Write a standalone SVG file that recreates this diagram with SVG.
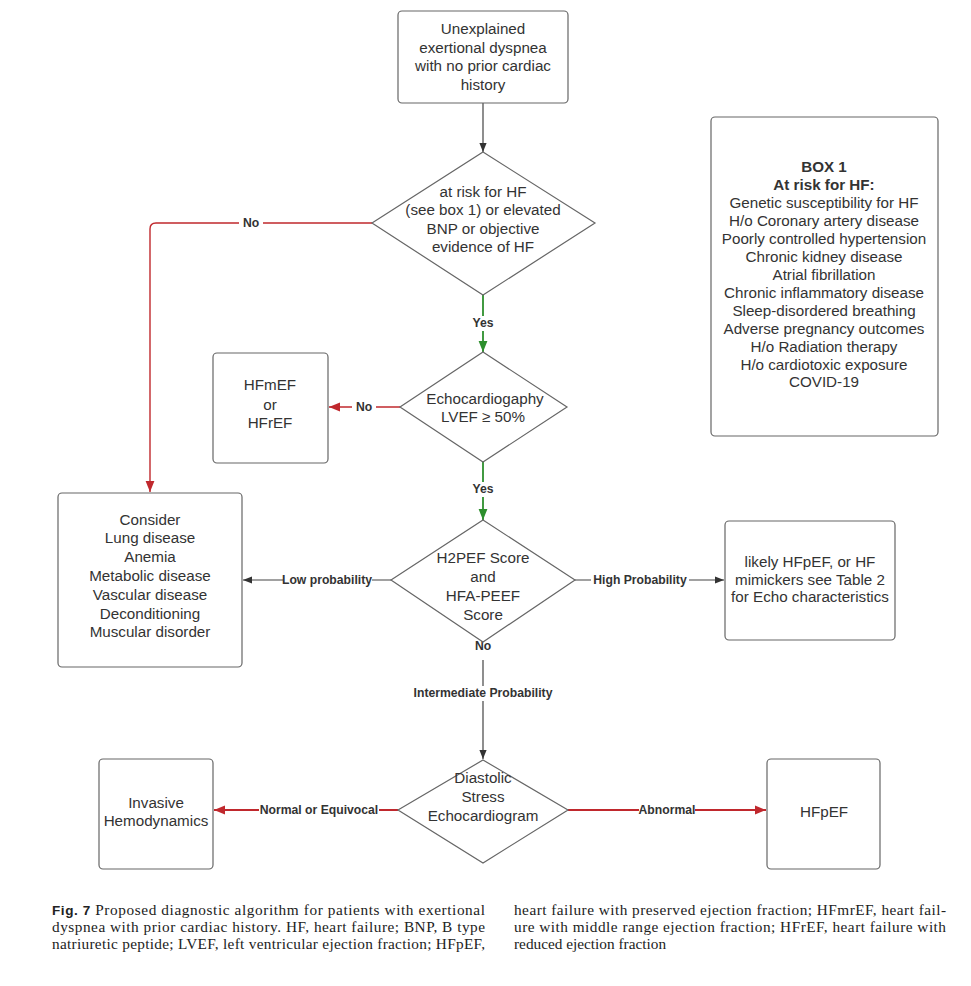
<svg xmlns="http://www.w3.org/2000/svg" width="971" height="986" viewBox="0 0 971 986">
<defs>
<style>
.box{fill:#fff;stroke:#666;stroke-width:1.2}
.t{font-family:"Liberation Sans",Arial,sans-serif;font-size:15.2px;fill:#333;text-anchor:middle}
.tb{font-family:"Liberation Sans",Arial,sans-serif;font-size:15.2px;fill:#333;text-anchor:middle;font-weight:bold}
.lbl{font-family:"Liberation Sans",Arial,sans-serif;font-size:12.2px;font-weight:bold;fill:#333;text-anchor:middle}
.lblbg{fill:#fff}
.dk{fill:none;stroke:#444;stroke-width:1.2}
.rd{fill:none;stroke:#c0282d;stroke-width:1.4}
.rd2{fill:none;stroke:#c0282d;stroke-width:2}
.gr{fill:none;stroke:#2d8f2d;stroke-width:1.8}
.cap{font-family:"Liberation Serif","Times New Roman",serif;font-size:15.3px;fill:#222}
</style>
<marker id="mdk" viewBox="0 0 10 10" refX="10" refY="5" markerWidth="9" markerHeight="9" markerUnits="userSpaceOnUse" orient="auto"><path d="M0,1 L10,5 L0,9 z" fill="#333"/></marker>
<marker id="mrd" viewBox="0 0 10 10" refX="10" refY="5" markerWidth="11" markerHeight="11" markerUnits="userSpaceOnUse" orient="auto"><path d="M0,1 L10,5 L0,9 z" fill="#c0282d"/></marker>
<marker id="mgr" viewBox="0 0 10 10" refX="10" refY="5" markerWidth="11" markerHeight="11" markerUnits="userSpaceOnUse" orient="auto"><path d="M0,1 L10,5 L0,9 z" fill="#2d8f2d"/></marker>
</defs>
<rect width="971" height="986" fill="#fff"/>

<g id="connectors">
<path class="dk" d="M483,103 V152" marker-end="url(#mdk)"/>
<path class="rd" d="M372,223 H156 Q150,223 150,229 V492" marker-end="url(#mrd)"/>
<rect class="lblbg" x="239" y="216" width="24" height="14"/>
<text class="lbl" x="251" y="227">No</text>
<path class="gr" d="M483,295 V352" marker-end="url(#mgr)"/>
<rect class="lblbg" x="468" y="316" width="30" height="15"/>
<text class="lbl" x="483" y="327">Yes</text>
<path class="rd" d="M400,407 H329" marker-end="url(#mrd)"/>
<rect class="lblbg" x="352" y="400" width="24" height="14"/>
<text class="lbl" x="364" y="411">No</text>
<path class="gr" d="M483,462 V520" marker-end="url(#mgr)"/>
<rect class="lblbg" x="468" y="482" width="30" height="15"/>
<text class="lbl" x="483" y="493">Yes</text>
<path class="dk" d="M391,580 H243" marker-end="url(#mdk)"/>
<rect class="lblbg" x="283" y="573" width="89" height="15"/>
<text class="lbl" x="327" y="584">Low probability</text>
<path class="dk" d="M575,580 H724" marker-end="url(#mdk)"/>
<rect class="lblbg" x="591" y="573" width="98" height="15"/>
<text class="lbl" x="640" y="584">High Probability</text>
<text class="lbl" x="483" y="650">No</text>
<path class="dk" d="M483,660 V759" marker-end="url(#mdk)"/>
<rect class="lblbg" x="411" y="686" width="144" height="15"/>
<text class="lbl" x="483" y="697">Intermediate Probability</text>
<path class="rd2" d="M398,810 H214" marker-end="url(#mrd)"/>
<rect class="lblbg" x="259" y="803" width="120" height="15"/>
<text class="lbl" x="319" y="814">Normal or Equivocal</text>
<path class="rd2" d="M568,810 H766" marker-end="url(#mrd)"/>
<rect class="lblbg" x="639" y="803" width="56" height="15"/>
<text class="lbl" x="667" y="814">Abnormal</text>
</g>

<g id="start">
<rect class="box" x="398" y="11" width="170" height="92" rx="4"/>
<text class="t" x="483" y="34">Unexplained</text>
<text class="t" x="483" y="53">exertional dyspnea</text>
<text class="t" x="483" y="71">with no prior cardiac</text>
<text class="t" x="483" y="90">history</text>
</g>

<g id="risk">
<polygon class="box" points="483,152 595,223 483,295 372,223"/>
<text class="t" x="483" y="197">at risk for HF</text>
<text class="t" x="483" y="215">(see box 1) or elevated</text>
<text class="t" x="483" y="234">BNP or objective</text>
<text class="t" x="483" y="252">evidence of HF</text>
</g>

<g id="box1">
<rect class="box" x="711" y="117" width="227" height="319" rx="4"/>
<text class="tb" x="824" y="172">BOX 1</text>
<text class="tb" x="824" y="190">At risk for HF:</text>
<text class="t" x="824" y="208">Genetic susceptibility for HF</text>
<text class="t" x="824" y="226">H/o Coronary artery disease</text>
<text class="t" x="824" y="244">Poorly controlled hypertension</text>
<text class="t" x="824" y="262">Chronic kidney disease</text>
<text class="t" x="824" y="280">Atrial fibrillation</text>
<text class="t" x="824" y="298">Chronic inflammatory disease</text>
<text class="t" x="824" y="316">Sleep-disordered breathing</text>
<text class="t" x="824" y="334">Adverse pregnancy outcomes</text>
<text class="t" x="824" y="352">H/o Radiation therapy</text>
<text class="t" x="824" y="370">H/o cardiotoxic exposure</text>
<text class="t" x="824" y="387">COVID-19</text>
</g>

<g id="echo">
<polygon class="box" points="483,352 567,407 483,462 400,407"/>
<text class="t" x="485" y="404">Echocardiogaphy</text>
<text class="t" x="483" y="422">LVEF ≥ 50%</text>
</g>

<g id="hfmef">
<rect class="box" x="213" y="353" width="115" height="110" rx="4"/>
<text class="t" x="270" y="390">HFmEF</text>
<text class="t" x="270" y="410">or</text>
<text class="t" x="270" y="428">HFrEF</text>
</g>

<g id="consider">
<rect class="box" x="58" y="493" width="184" height="174" rx="4"/>
<text class="t" x="150" y="525">Consider</text>
<text class="t" x="150" y="543">Lung disease</text>
<text class="t" x="150" y="562">Anemia</text>
<text class="t" x="150" y="581">Metabolic disease</text>
<text class="t" x="150" y="600">Vascular disease</text>
<text class="t" x="150" y="619">Deconditioning</text>
<text class="t" x="150" y="637">Muscular disorder</text>
</g>

<g id="score">
<polygon class="box" points="483,520 575,580 483,642 391,580"/>
<text class="t" x="483" y="563">H2PEF Score</text>
<text class="t" x="483" y="582">and</text>
<text class="t" x="483" y="601">HFA-PEEF</text>
<text class="t" x="483" y="620">Score</text>
</g>

<g id="likely">
<rect class="box" x="725" y="521" width="170" height="119" rx="4"/>
<text class="t" x="810" y="567">likely HFpEF, or HF</text>
<text class="t" x="810" y="585">mimickers see Table 2</text>
<text class="t" x="810" y="602">for Echo characteristics</text>
</g>

<g id="stress">
<polygon class="box" points="483,760 568,810 483,863 398,810"/>
<text class="t" x="483" y="783">Diastolic</text>
<text class="t" x="483" y="802">Stress</text>
<text class="t" x="483" y="821">Echocardiogram</text>
</g>

<g id="invasive">
<rect class="box" x="99" y="759" width="114" height="110" rx="4"/>
<text class="t" x="156" y="808">Invasive</text>
<text class="t" x="156" y="826">Hemodynamics</text>
</g>

<g id="hfpef">
<rect class="box" x="767" y="759" width="113" height="110" rx="4"/>
<text class="t" x="824" y="817">HFpEF</text>
</g>

<g id="caption">
<text class="cap" x="52" y="915" textLength="433" lengthAdjust="spacing"><tspan font-family="Liberation Sans,Arial,sans-serif" font-weight="bold" font-size="13.5">Fig. 7</tspan> Proposed diagnostic algorithm for patients with exertional</text>
<text class="cap" x="52" y="932" textLength="433" lengthAdjust="spacing">dyspnea with prior cardiac history. HF, heart failure; BNP, B type</text>
<text class="cap" x="52" y="949" textLength="433" lengthAdjust="spacing">natriuretic peptide; LVEF, left ventricular ejection fraction; HFpEF,</text>
<text class="cap" x="514" y="915" textLength="432" lengthAdjust="spacing">heart failure with preserved ejection fraction; HFmrEF, heart fail-</text>
<text class="cap" x="514" y="932" textLength="432" lengthAdjust="spacing">ure with middle range ejection fraction; HFrEF, heart failure with</text>
<text class="cap" x="514" y="949">reduced ejection fraction</text>
</g>
</svg>
